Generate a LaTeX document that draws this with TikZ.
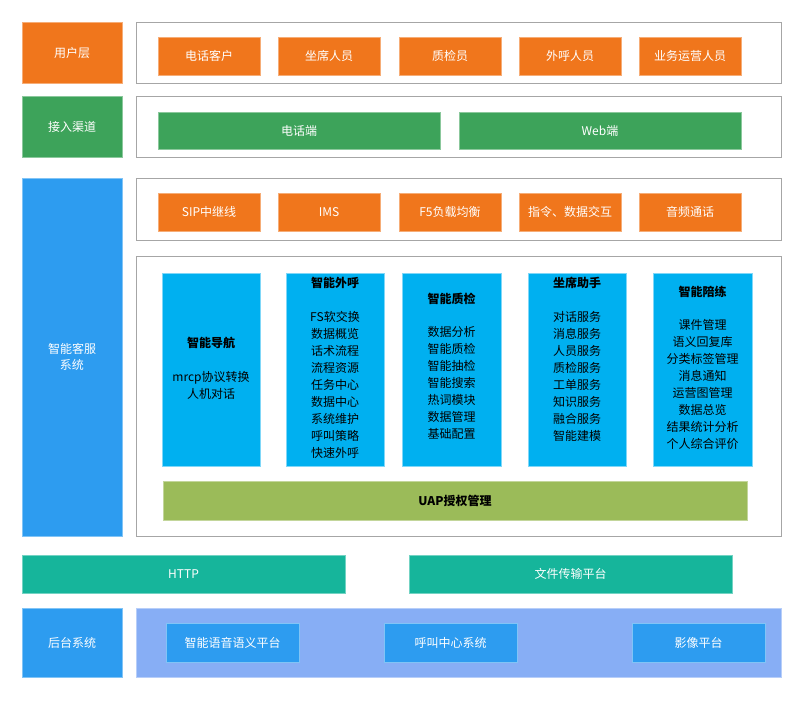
\documentclass[tikz,border=0pt]{standalone}
\usepackage{fontspec}
\setmainfont{Noto Sans CJK SC}
\begin{document}
\definecolor{org}{HTML}{F0761C}
\definecolor{grn}{HTML}{3DA35A}
\definecolor{blu}{HTML}{2D9CF0}
\definecolor{cyn}{HTML}{00B0F0}
\definecolor{uap}{HTML}{9BBB59}
\definecolor{teal}{HTML}{16B59B}
\definecolor{bk}{HTML}{87AEF5}
\begin{tikzpicture}[x=1pt,y=-1pt,
  box/.style={draw=#1!60!white,fill=#1,text=white,font=\fontsize{12}{16}\selectfont,line width=0.8pt},
  frame/.style={draw=gray!70,line width=0.9pt,fill=white},
  col/.style={draw=cyn!50!white,fill=cyn,line width=0.8pt},
  ct/.style={align=center,font=\fontsize{12}{17}\selectfont,anchor=north}]
\useasboundingbox (0,0) rectangle (804,701);
\fill[white] (0,0) rectangle (804,701);
\newcommand\bx[6]{\path[box=#5] (#1,#2) rectangle (#3,#4) node[midway,align=center] (#6) {\strut\smash{#6}};}
\def\R#1#2#3#4#5#6#7{\path[box=#5] (#1,#2) rectangle node[align=center] (#6) {#7} (#3,#4);}
% left
\R{22}{22}{122}{83}{org}{l1}{用户层}
\R{22}{96}{122}{157}{grn}{l2}{接入渠道}
\R{22}{178}{122}{536}{blu}{l3}{智能客服\\系统}
\R{22}{608}{122}{677}{blu}{l4}{后台系统}
% frames
\draw[frame] (136,22) rectangle (781,83);
\draw[frame] (136,96) rectangle (781,157);
\draw[frame] (136,178) rectangle (781,240);
\draw[frame] (136,256) rectangle (781,536);
% row1
\R{158}{37}{260}{75}{org}{a1}{电话客户}
\R{278}{37}{380}{75}{org}{a2}{坐席人员}
\R{399}{37}{501}{75}{org}{a3}{质检员}
\R{519}{37}{621}{75}{org}{a4}{外呼人员}
\R{639}{37}{741}{75}{org}{a5}{业务运营人员}
% row2
\R{158}{112}{440}{149}{grn}{b1}{电话端}
\R{459}{112}{741}{149}{grn}{b2}{Web端}
% row3
\R{158}{193}{260}{231}{org}{c1}{SIP中继线}
\R{278}{193}{380}{231}{org}{c2}{IMS}
\R{399}{193}{501}{231}{org}{c3}{F5负载均衡}
\R{519}{193}{621}{231}{org}{c4}{指令、数据交互}
\R{639}{193}{741}{231}{org}{c5}{音频通话}
% columns
\draw[col] (162,273) rectangle (260,466) coordinate (d1);
\draw[col] (286,273) rectangle (384,466) coordinate (d2);
\draw[col] (402,273) rectangle (501,466) coordinate (d3);
\draw[col] (528,273) rectangle (626,466) coordinate (d4);
\draw[col] (653,273) rectangle (752,466) coordinate (d5);
\node[ct,font=\bfseries\fontsize{12}{17}\selectfont] (t1) at (211,334) {智能导航};
\node[ct] (i1) at (211,368) {mrcp协议转换\\人机对话};
\node[ct,font=\bfseries\fontsize{12}{17}\selectfont] (t2) at (335,274) {智能外呼};
\node[ct] (i2) at (335,308) {FS软交换\\数据概览\\话术流程\\流程资源\\任务中心\\数据中心\\系统维护\\呼叫策略\\快速外呼};
\node[ct,font=\bfseries\fontsize{12}{17}\selectfont] (t3) at (451.5,290) {智能质检};
\node[ct] (i3) at (451.5,323) {数据分析\\智能质检\\智能抽检\\智能搜索\\热词模块\\数据管理\\基础配置};
\node[ct,font=\bfseries\fontsize{12}{17}\selectfont] (t4) at (577,274) {坐席助手};
\node[ct] (i4) at (577,308) {对话服务\\消息服务\\人员服务\\质检服务\\工单服务\\知识服务\\融合服务\\智能建模};
\node[ct,font=\bfseries\fontsize{12}{17}\selectfont] (t5) at (702.5,283) {智能陪练};
\node[ct] (i5) at (702.5,316) {课件管理\\语义回复库\\分类标签管理\\消息通知\\运营图管理\\数据总览\\结果统计分析\\个人综合评价};
\path[draw=uap!60!white,fill=uap,line width=0.8pt] (163,481) rectangle node[font=\bfseries\fontsize{12}{16}\selectfont] (uap) {UAP授权管理} (747,520);
% protocol
\R{22}{555}{345}{593}{teal}{h1}{HTTP}
\R{409}{555}{732}{593}{teal}{h2}{文件传输平台}
% backend
\path[draw=bk!60!white,fill=bk,line width=0.8pt] (136,608) rectangle (781,677) coordinate (bb);
\R{166}{623}{299}{662}{blu}{e1}{智能语音语义平台}
\R{384}{623}{517}{662}{blu}{e2}{呼叫中心系统}
\R{632}{623}{765}{662}{blu}{e3}{影像平台}
\end{tikzpicture}
\end{document}
